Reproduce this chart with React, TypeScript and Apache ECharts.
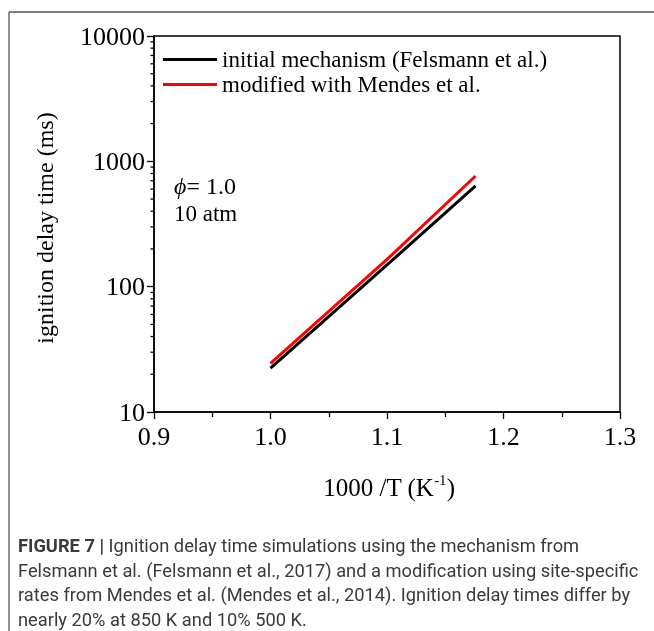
import React, { useEffect, useRef } from "react";
import * as echarts from "echarts";

const seriesNames = ["initial mechanism (Felsmann et al.)", "modified with Mendes et al."];
const xValues = [1.0, 1.1, 1.176];
const initialValues = [22.4, 149, 636];
const modifiedValues = [24.4, 165, 764];
const yMinorTicks = [20, 30, 40, 50, 60, 70, 80, 90, 200, 300, 400, 500, 600, 700, 800, 900, 2000, 3000, 4000, 5000, 6000, 7000, 8000, 9000];
const captionLines = [
  "{b|FIGURE 7 |} Ignition delay time simulations using the mechanism from",
  "Felsmann et al. ({g|Felsmann et al., 2017}) and a modification using site-specific",
  "rates from Mendes et al. ({g|Mendes et al., 2014}). Ignition delay times differ by",
  "nearly 20% at 850 K and 10% 500 K.",
];

const SERIF = "'Liberation Serif', 'Times New Roman', serif";
const SANS = "Roboto, 'Liberation Sans', Arial, sans-serif";

export default function App() {
  const ref = useRef<HTMLDivElement>(null);
  useEffect(() => {
    if (!ref.current) return;
    const chart = echarts.init(ref.current, null, { renderer: "svg" });
    const CF = 18.3;
    const captionStyle = {
      fontFamily: SANS,
      fontSize: CF,
      fill: "#3a3a3a",
      rich: {
        b: { fontFamily: SANS, fontSize: CF, fontWeight: "bold", color: "#222" },
        g: { fontFamily: SANS, fontSize: CF, color: "#9a9a9a" },
      },
    };
    const captionY = [545, 570, 594, 619];
    chart.setOption({
      animation: false,
      grid: { left: 154, top: 36, width: 466, height: 376, show: true, borderColor: "#000", borderWidth: 1.5 },
      legend: {
        left: 158,
        top: 43,
        orient: "vertical",
        itemWidth: 54,
        itemHeight: 3,
        itemGap: 2,
        icon: "rect",
        data: seriesNames,
        textStyle: { fontFamily: SERIF, fontSize: 23, color: "#000", padding: [0, 0, 0, 0] },
      },
      xAxis: {
        type: "value",
        min: 0.9,
        max: 1.3,
        interval: 0.1,
        axisLine: { lineStyle: { color: "#000", width: 1.5 } },
        axisTick: { show: true, length: 7, lineStyle: { color: "#000", width: 1.3 } },
        minorTick: { show: true, splitNumber: 2, length: 5, lineStyle: { color: "#000", width: 1.3 } },
        splitLine: { show: false },
        axisLabel: {
          margin: 11,
          fontFamily: SERIF,
          fontSize: 26,
          color: "#000",
          formatter: (v: number) => v.toFixed(1),
        },
      },
      yAxis: {
        type: "log",
        logBase: 10,
        min: 10,
        max: 10000,
        axisLine: { show: true, lineStyle: { color: "#000", width: 1.5 } },
        axisTick: { show: true, length: 7, lineStyle: { color: "#000", width: 1.3 } },
        splitLine: { show: false },
        axisLabel: {
          margin: 9,
          fontFamily: SERIF,
          fontSize: 26,
          color: "#000",
          formatter: (v: number) => String(Math.round(v)),
        },
      },
      series: [
        {
          name: seriesNames[0],
          type: "line",
          data: xValues.map((x, i) => [x, initialValues[i]]),
          showSymbol: false,
          lineStyle: { color: "#000", width: 3 },
          itemStyle: { color: "#000" },
        },
        {
          name: seriesNames[1],
          type: "line",
          data: xValues.map((x, i) => [x, modifiedValues[i]]),
          showSymbol: false,
          lineStyle: { color: "#ff0000", width: 3 },
          itemStyle: { color: "#ff0000" },
        },
        {
          name: "minor",
          type: "custom",
          silent: true,
          clip: false,
          data: yMinorTicks.map((v) => [0.9, v]),
          renderItem: (_params: any, api: any) => {
            const p = api.coord([api.value(0), api.value(1)]);
            return {
              type: "line",
              shape: { x1: p[0] - 3.5, y1: p[1], x2: p[0], y2: p[1] },
              style: { stroke: "#000", lineWidth: 1.3 },
            };
          },
        },
      ],
      graphic: [
        {
          type: "line",
          shape: { x1: 9, y1: 12, x2: 654, y2: 12 },
          style: { stroke: "#555", lineWidth: 1.3 },
          silent: true,
        },
        {
          type: "line",
          shape: { x1: 9, y1: 12, x2: 9, y2: 631 },
          style: { stroke: "#555", lineWidth: 1.3 },
          silent: true,
        },
        {
          type: "text",
          x: 45,
          y: 228,
          rotation: Math.PI / 2,
          style: {
            text: "ignition delay time (ms)",
            fontFamily: SERIF,
            fontSize: 24,
            fill: "#000",
            align: "center",
            verticalAlign: "middle",
          },
        },
        {
          type: "text",
          x: 389,
          y: 485,
          style: {
            text: "{a|1000 /T (K}{s|-1}{a|)}",
            align: "center",
            verticalAlign: "middle",
            rich: {
              a: { fontFamily: SERIF, fontSize: 25, color: "#000", lineHeight: 30, verticalAlign: "bottom" },
              s: { fontFamily: SERIF, fontSize: 15, color: "#000", lineHeight: 30, verticalAlign: "top", padding: [2, 0, 0, 0] },
            },
          },
        },
        {
          type: "text",
          x: 174,
          y: 186,
          style: {
            text: "{i|ϕ}{n|= 1.0}",
            verticalAlign: "middle",
            rich: {
              i: { fontFamily: SERIF, fontSize: 24, fontStyle: "italic", color: "#000" },
              n: { fontFamily: SERIF, fontSize: 24, color: "#000" },
            },
          },
        },
        {
          type: "text",
          x: 174,
          y: 213,
          style: { text: "10 atm", fontFamily: SERIF, fontSize: 23, fill: "#000", verticalAlign: "middle" },
        },
        ...captionLines.map((t, i) => ({
          type: "text",
          x: 18,
          y: captionY[i],
          style: { ...captionStyle, text: t, verticalAlign: "middle" },
        })),
      ],
    });
    return () => chart.dispose();
  }, []);
  return <div ref={ref} style={{ position: "fixed", left: 0, top: 0, width: 654, height: 631 }} />;
}
